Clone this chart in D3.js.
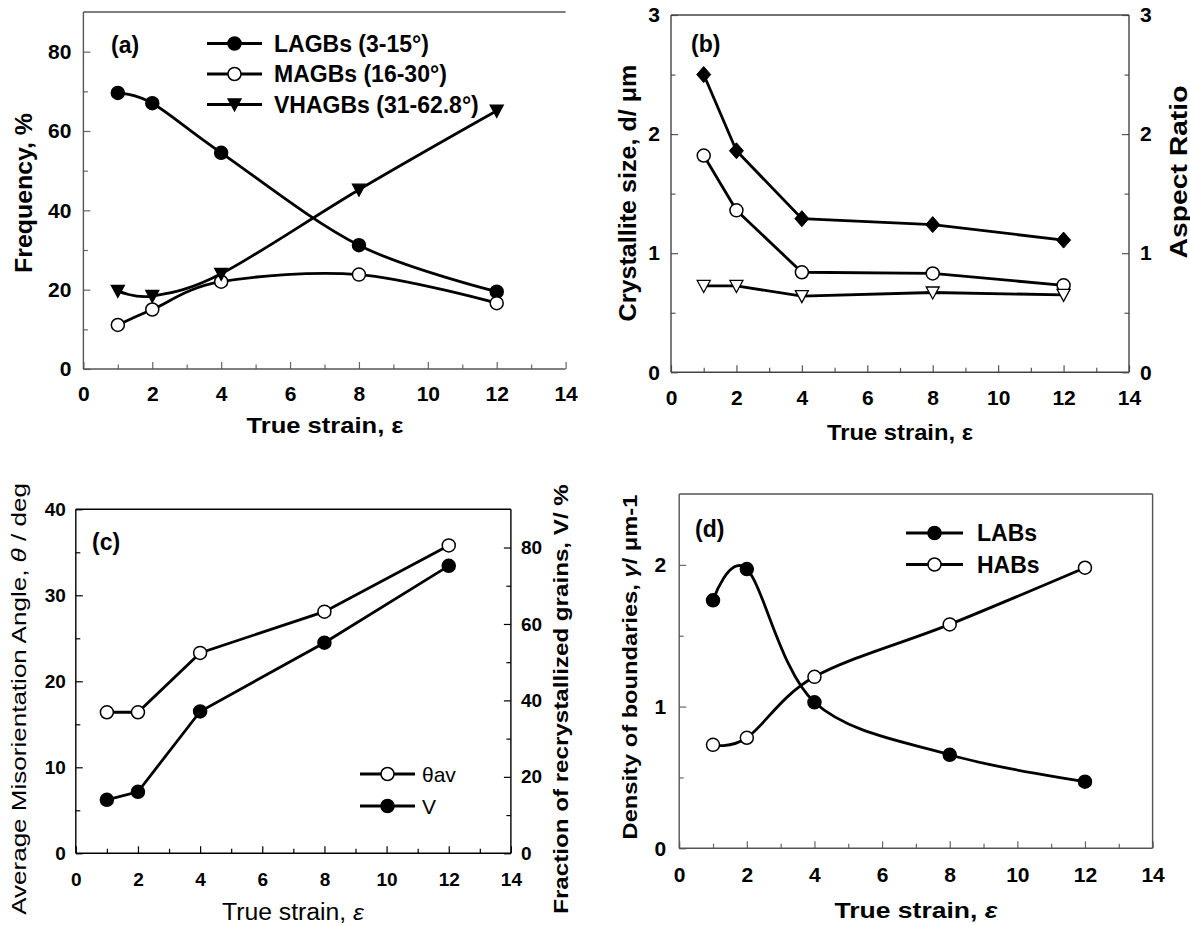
<!DOCTYPE html>
<html>
<head>
<meta charset="utf-8">
<script src="https://cdn.jsdelivr.net/npm/d3@7"></script>
<style>
  body { margin: 0; background: #fff; }
  svg text { font-family: "Liberation Sans", Arial, sans-serif; fill: #000; }
</style>
</head>
<body>
<div id="container"></div>
<script>
/* CONSTANTS AND GLOBALS */
const width = 1190;
const height = 926;

/* DATA */
const strain = [1, 2, 4, 8, 12];

// (a) boundary fractions, %
const lagbs = [69.6, 67.0, 54.5, 31.2, 19.5];
const magbs = [11.1, 15.0, 22.0, 23.8, 16.6];
const vhagbs = [19.7, 18.4, 24.0, 45.2, 65.1];
const legendA = ["LAGBs (3-15°)", "MAGBs (16-30°)", "VHAGBs (31-62.8°)"];

// (b) crystallite size (left) and aspect ratio (right)
const sizeDiamond = [2.50, 1.86, 1.29, 1.24, 1.11];
const sizeCircle = [1.82, 1.36, 0.84, 0.83, 0.73];
const aspectRatio = [0.725, 0.725, 0.64, 0.67, 0.65];

// (c) misorientation angle (left) and recrystallized fraction (right)
const thetaAv = [16.4, 16.4, 23.3, 28.1, 35.8];
const recrystV = [14.0, 16.1, 37.1, 55.1, 75.2];
const legendC = ["θav", "V"];

// (d) boundary density
const labs = [1.75, 1.97, 1.03, 0.66, 0.47];
const habs = [0.73, 0.78, 1.21, 1.58, 1.98];
const legendD = ["LABs", "HABs"];

// tick values
const xTicks = [0, 2, 4, 6, 8, 10, 12, 14];
const xMinor = [1, 3, 5, 7, 9, 11, 13];
const yTicksA = [0, 20, 40, 60, 80];
const yMinorA = [10, 30, 50, 70];
const yTicksB = [0, 1, 2, 3];
const yMinorB = [0.5, 1.5, 2.5];
const yTicksC = [0, 10, 20, 30, 40];
const yMinorC = [5, 15, 25, 35];
const y2TicksC = [0, 20, 40, 60, 80];
const y2MinorC = [10, 30, 50, 70];
const yTicksD = [0, 1, 2];
const yMinorD = [0.5, 1.5];

const svg = d3.select("#container")
  .append("svg")
  .attr("width", width)
  .attr("height", height);

// marker shapes
function marker(g, type, cx, cy) {
  if (type === "circleFilled" || type === "circleOpen") {
    g.append("circle")
      .attr("cx", cx).attr("cy", cy).attr("r", 6.5)
      .attr("fill", type === "circleFilled" ? "#000" : "#fff")
      .attr("stroke", "#000").attr("stroke-width", 1.5);
  } else if (type === "diamond") {
    g.append("path")
      .attr("d", `M${cx},${cy - 8}L${cx + 7},${cy}L${cx},${cy + 8}L${cx - 7},${cy}Z`)
      .attr("fill", "#000").attr("stroke", "#000").attr("stroke-width", 1);
  } else {
    const filled = type === "triFilled";
    g.append("path")
      .attr("d", `M${cx - 6.5},${cy - 5.5}L${cx + 6.5},${cy - 5.5}L${cx},${cy + 6.5}Z`)
      .attr("fill", filled ? "#000" : "#fff")
      .attr("stroke", "#000").attr("stroke-width", 1.3);
  }
}

// text that is stretched to a measured length
function title(g, parts, o) {
  const t = g.append("text")
    .attr("text-anchor", "middle")
    .attr("font-size", o.size)
    .attr("font-weight", o.weight || "bold");
  parts.forEach(p => {
    t.append("tspan").attr("font-style", p.italic ? "italic" : null).text(p.t);
  });
  const w = t.node().getComputedTextLength();
  const k = o.length ? o.length / w : 1;
  t.attr("transform", `translate(${o.x},${o.y}) rotate(${o.rotate || 0}) scale(${k},1)`);
}

function styleAxis(sel, color, size) {
  sel.select(".domain").remove();
  sel.selectAll(".tick line").attr("stroke", color).attr("stroke-width", 1.2);
  sel.selectAll(".tick text")
    .attr("font-family", '"Liberation Sans", Arial, sans-serif')
    .attr("font-weight", "bold")
    .attr("font-size", size)
    .attr("fill", "#000");
}

function panel(p) {
  const g = svg.append("g");
  const x = d3.scaleLinear().domain([0, 14]).range([p.left, p.right]);
  const y = d3.scaleLinear().domain(p.yDomain).range([p.bottom, p.top]);
  const y2 = p.y2Domain ? d3.scaleLinear().domain(p.y2Domain).range([p.bottom, p.top]) : null;

  // x axis
  g.append("g").attr("transform", `translate(0,${p.bottom})`)
    .call(d3.axisBottom(x).tickValues(xMinor).tickSize(-4.5).tickFormat(""))
    .call(s => styleAxis(s, p.tickColor, p.tickFont));
  g.append("g").attr("transform", `translate(0,${p.bottom})`)
    .call(d3.axisBottom(x).tickValues(xTicks).tickSize(-7).tickPadding(p.xPad).tickFormat(d3.format("d")))
    .call(s => styleAxis(s, p.tickColor, p.tickFont));

  // left axis
  g.append("g").attr("transform", `translate(${p.left},0)`)
    .call(d3.axisLeft(y).tickValues(p.yMinor).tickSize(-4.5).tickFormat(""))
    .call(s => styleAxis(s, p.tickColor, p.tickFont));
  g.append("g").attr("transform", `translate(${p.left},0)`)
    .call(d3.axisLeft(y).tickValues(p.yTicks).tickSize(-7).tickPadding(p.yPad).tickFormat(d3.format("d")))
    .call(s => styleAxis(s, p.tickColor, p.tickFont));

  // right axis
  if (y2) {
    g.append("g").attr("transform", `translate(${p.right},0)`)
      .call(d3.axisRight(y2).tickValues(p.y2Minor).tickSize(-4.5).tickFormat(""))
      .call(s => styleAxis(s, p.tickColor, p.tickFont));
    g.append("g").attr("transform", `translate(${p.right},0)`)
      .call(d3.axisRight(y2).tickValues(p.y2Ticks).tickSize(-7).tickPadding(p.yPad).tickFormat(d3.format("d")))
      .call(s => styleAxis(s, p.tickColor, p.tickFont));
  }

  // frame
  const frame = [[p.left, p.top, p.left, p.bottom], [p.left, p.bottom, p.right, p.bottom], [p.left, p.top, p.right, p.top]];
  if (p.rightLine) frame.push([p.right, p.top, p.right, p.bottom]);
  frame.forEach(f => {
    g.append("line")
      .attr("x1", f[0]).attr("y1", f[1]).attr("x2", f[2]).attr("y2", f[3])
      .attr("stroke", p.frameColor).attr("stroke-width", 1.4);
  });

  // series lines
  p.series.forEach(s => {
    const ys = s.right ? y2 : y;
    const pts = strain.map((d, i) => [x(d), ys(s.values[i])]);
    g.append("path")
      .attr("d", d3.line().curve(p.smooth ? d3.curveCardinal.tension(0) : d3.curveLinear)(pts))
      .attr("fill", "none")
      .attr("stroke", "#000")
      .attr("stroke-width", 2.8);
  });
  // markers
  p.series.forEach(s => {
    const ys = s.right ? y2 : y;
    strain.forEach((d, i) => marker(g, s.marker, x(d), ys(s.values[i])));
  });

  // legend
  if (p.legend) {
    const L = p.legend;
    L.labels.forEach((label, i) => {
      const ry = L.y + i * L.step;
      g.append("line")
        .attr("x1", L.x1).attr("x2", L.x2).attr("y1", ry).attr("y2", ry)
        .attr("stroke", "#000").attr("stroke-width", 2.8);
      marker(g, L.markers[i], (L.x1 + L.x2) / 2, ry);
      g.append("text")
        .attr("x", L.tx).attr("y", ry).attr("dy", "0.36em")
        .attr("font-size", L.size)
        .attr("font-weight", L.weight)
        .text(label);
    });
  }

  // panel letter
  g.append("text")
    .attr("x", p.letter.x).attr("y", p.letter.y)
    .attr("font-size", 23).attr("font-weight", "bold")
    .text(p.letter.t);

  return g;
}

/* PANEL (a) */
const ga = panel({
  left: 83.4, right: 565.6, top: 12, bottom: 369,
  yDomain: [0, 90], yTicks: yTicksA, yMinor: yMinorA,
  xPad: 17.5, yPad: 12, tickFont: 21, tickColor: "#666", frameColor: "#555",
  rightLine: false, smooth: true,
  series: [
    { values: lagbs, marker: "circleFilled" },
    { values: magbs, marker: "circleOpen" },
    { values: vhagbs, marker: "triFilled" }
  ],
  legend: { labels: legendA, markers: ["circleFilled", "circleOpen", "triFilled"],
    x1: 207, x2: 262, y: 43.5, step: 30.5, tx: 274, size: 23, weight: "bold" },
  letter: { t: "(a)", x: 111, y: 53 }
});
title(ga, [{ t: "Frequency, %" }], { x: 32, y: 193, rotate: -90, size: 24, length: 160 });
title(ga, [{ t: "True strain, ε" }], { x: 325, y: 433, size: 22, length: 157 });

/* PANEL (b) */
const gb = panel({
  left: 671, right: 1129, top: 15, bottom: 372.3,
  yDomain: [0, 3], yTicks: yTicksB, yMinor: yMinorB,
  y2Domain: [0, 3], y2Ticks: yTicksB, y2Minor: yMinorB,
  xPad: 17.5, yPad: 11, tickFont: 21, tickColor: "#555", frameColor: "#444",
  rightLine: true, smooth: false,
  series: [
    { values: sizeDiamond, marker: "diamond" },
    { values: sizeCircle, marker: "circleOpen" },
    { values: aspectRatio, marker: "triOpen", right: true }
  ],
  letter: { t: "(b)", x: 691, y: 52 }
});
title(gb, [{ t: "Crystallite size, d/ μm" }], { x: 636, y: 193, rotate: -90, size: 24, length: 257 });
title(gb, [{ t: "Aspect Ratio" }], { x: 1187, y: 172, rotate: -90, size: 23, length: 173 });
title(gb, [{ t: "True strain, ε" }], { x: 900, y: 440, size: 22, length: 146 });

/* PANEL (c) */
const gc = panel({
  left: 75.8, right: 510.9, top: 509.3, bottom: 853.3,
  yDomain: [0, 40], yTicks: yTicksC, yMinor: yMinorC,
  y2Domain: [0, 90], y2Ticks: y2TicksC, y2Minor: y2MinorC,
  xPad: 19, yPad: 10, tickFont: 19, tickColor: "#000", frameColor: "#000",
  rightLine: true, smooth: false,
  series: [
    { values: thetaAv, marker: "circleOpen" },
    { values: recrystV, marker: "circleFilled", right: true }
  ],
  legend: { labels: legendC, markers: ["circleOpen", "circleFilled"],
    x1: 360, x2: 415, y: 774, step: 32, tx: 422, size: 21, weight: "normal" },
  letter: { t: "(c)", x: 92, y: 550 }
});
title(gc, [{ t: "Average Misorientation Angle, " }, { t: "θ", italic: true }, { t: " / deg" }],
  { x: 26, y: 699, rotate: -90, size: 20, weight: "normal", length: 432 });
title(gc, [{ t: "Fraction of recrystallized grains, V/ %" }],
  { x: 568, y: 699, rotate: -90, size: 21, length: 430 });
title(gc, [{ t: "True strain, " }, { t: "ε", italic: true }],
  { x: 293, y: 920, size: 23, weight: "normal", length: 142 });

/* PANEL (d) */
const gd = panel({
  left: 679.2, right: 1152.6, top: 494, bottom: 848.3,
  yDomain: [0, 2.5], yTicks: yTicksD, yMinor: yMinorD,
  xPad: 19, yPad: 13, tickFont: 21, tickColor: "#666", frameColor: "#555",
  rightLine: true, smooth: true,
  series: [
    { values: labs, marker: "circleFilled" },
    { values: habs, marker: "circleOpen" }
  ],
  legend: { labels: legendD, markers: ["circleFilled", "circleOpen"],
    x1: 906, x2: 963, y: 533, step: 31.5, tx: 977, size: 23, weight: "bold" },
  letter: { t: "(d)", x: 695, y: 537 }
});
title(gd, [{ t: "Density of boundaries, " }, { t: "γ", italic: true }, { t: "/ μm-1" }],
  { x: 637, y: 667, rotate: -90, size: 21, length: 345 });
title(gd, [{ t: "True strain, " }, { t: "ε", italic: true }],
  { x: 916, y: 918, size: 22, length: 163 });
</script>
</body>
</html>
